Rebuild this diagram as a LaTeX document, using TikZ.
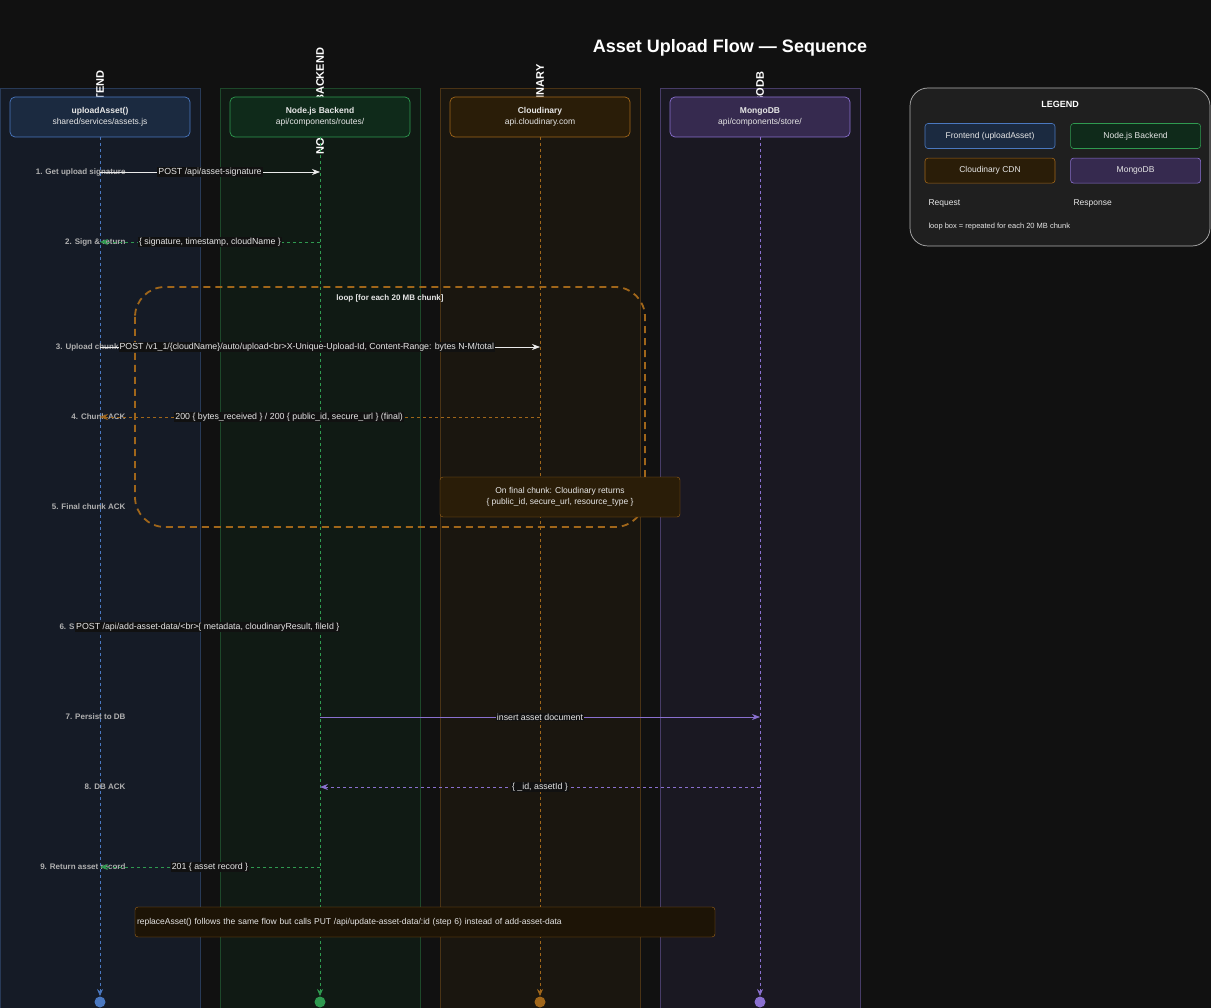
\documentclass[tikz,border=0pt]{standalone}
\usepackage{fontspec}
\setmainfont{Liberation Sans}
\usetikzlibrary{arrows.meta,positioning}
\definecolor{bgc}{HTML}{111111}
\definecolor{feL}{HTML}{151B26}\definecolor{feF}{HTML}{1B2A40}\definecolor{feD}{HTML}{4A78C0}
\definecolor{beL}{HTML}{101A14}\definecolor{beF}{HTML}{0F2A1A}\definecolor{beD}{HTML}{2F9A50}
\definecolor{clL}{HTML}{1A160F}\definecolor{clF}{HTML}{2A1D08}\definecolor{clD}{HTML}{A0661A}
\definecolor{mgL}{HTML}{1A1822}\definecolor{mgF}{HTML}{362A4F}\definecolor{mgD}{HTML}{8A70D0}
\definecolor{txt}{HTML}{E6E6E6}\definecolor{stp}{HTML}{B0B0B0}
\begin{document}
\begin{tikzpicture}[x=1pt,y=-1pt,font=\fontsize{8.5}{10.5}\selectfont,text=txt]
	\tikzstyle{Lane}=[draw,line width=0.6pt]
	\tikzstyle{Head}=[draw,rounded corners=5pt,minimum width=180pt,minimum height=40pt,align=center,line width=0.7pt]
	\tikzstyle{Life}=[dashed,line width=0.6pt,-{Stealth[length=7pt,width=6pt]}]
	\tikzstyle{Step}=[anchor=east,text=stp,font=\fontsize{8}{10}\selectfont\bfseries]
	\tikzstyle{Msg}=[fill=bgc,inner sep=1pt,text=txt,font=\fontsize{8.8}{10.5}\selectfont]
	\tikzstyle{Req}=[line width=0.7pt,-{Stealth[length=8pt,width=6pt]}]
	\tikzstyle{Resp}=[line width=0.7pt,dashed,-{Stealth[length=8pt,width=6pt]}]
	\tikzstyle{Key}=[draw,rounded corners=3pt,minimum width=130pt,minimum height=25pt,line width=0.6pt]
	\useasboundingbox (0,0) rectangle (1211,1008);
	\fill[bgc] (0,0) rectangle (1211,1008);
	\clip (0,0) rectangle (1211,1008);
	% lanes
	\draw[Lane,feD!40!bgc,fill=feL] (0,88) rectangle (200,1010);
	\draw[Lane,beD!40!bgc,fill=beL] (220,88) rectangle (420,1010);
	\draw[Lane,clD!40!bgc,fill=clL] (440,88) rectangle (640,1010);
	\draw[Lane,mgD!45!bgc,fill=mgL] (660,88) rectangle (860,1010);
	\node[font=\fontsize{18}{20}\selectfont\bfseries,text=white] (title) at (730,48) {Asset Upload Flow — Sequence};
	% rotated lane titles
	\foreach \x/\t in {100/FRONTEND,320/NODE.JS BACKEND,540/CLOUDINARY,760/MONGODB}
		\node[rotate=90,text=white,font=\fontsize{11}{13}\selectfont\bfseries] at (\x,101) {\t};
	% lifelines
	\coordinate (fe) at (100,137); \coordinate (feE) at (100,996);
	\coordinate (be) at (320,137); \coordinate (beE) at (320,996);
	\coordinate (cl) at (540,137); \coordinate (clE) at (540,996);
	\coordinate (mg) at (760,137); \coordinate (mgE) at (760,996);
	\draw[Life,feD] (fe) -- (feE);
	\draw[Life,beD] (be) -- (beE);
	\draw[Life,clD] (cl) -- (clE);
	\draw[Life,mgD] (mg) -- (mgE);
	\foreach \n/\c in {feE/feD,beE/beD,clE/clD,mgE/mgD}
		\fill[\c] (\n) ++(0,6) circle (5.5pt);
	% headers
	\node[Head,fill=feF,draw=feD] (front) at (100,117) {\textbf{uploadAsset()}\\shared/services/assets.js};
	\node[Head,fill=beF,draw=beD] (back) at (320,117) {\textbf{Node.js Backend}\\api/components/routes/};
	\node[Head,fill=clF,draw=clD] (cloud) at (540,117) {\textbf{Cloudinary}\\api.cloudinary.com};
	\node[Head,fill=mgF,draw=mgD] (mongo) at (760,117) {\textbf{MongoDB}\\api/components/store/};
	% loop
	\draw[clD,line width=1.8pt,dash pattern=on 7pt off 5pt,rounded corners=30pt] (135,287) rectangle (645,527);
	\node[font=\fontsize{8}{10}\selectfont\bfseries] (loop) at (390,298) {loop [for each 20 MB chunk]};
	% steps
	\node[Step] (s1) at (129,172) {1. Get upload signature};
	\node[Step] (s2) at (129,242) {2. Sign \& return};
	\node[Step] (s3) at (130,347) {3. Upload chunk N};
	\node[Step] (s4) at (129,417) {4. Chunk ACK};
	\node[Step] (s5) at (129,507) {5. Final chunk ACK};
	\node[Step,anchor=west] (s6) at (56,627) {6. S};
	\node[Step] (s7) at (129,717) {7. Persist to DB};
	\node[Step] (s8) at (129,787) {8. DB ACK};
	\node[Step] (s9) at (129,867) {9. Return asset record};
	% messages
	\coordinate (m1a) at (100,172); \coordinate (m1b) at (320,172);
	\draw[Req,txt!80] (m1a) -- node[Msg] {POST /api/asset-signature} (m1b);
	\coordinate (m2a) at (320,242); \coordinate (m2b) at (100,242);
	\draw[Resp,beD] (m2a) -- node[Msg] {\{ signature, timestamp, cloudName \}} (m2b);
	\coordinate (m3a) at (100,347); \coordinate (m3b) at (540,347);
	\draw[Req,txt!80] (m3a) -- node[Msg,pos=0.47] {POST /v1\_1/\{cloudName\}/auto/upload<br>X-Unique-Upload-Id, Content-Range: bytes N-M/total} (m3b);
	\coordinate (m4a) at (540,417); \coordinate (m4b) at (100,417);
	\draw[Resp,clD] (m4a) -- node[Msg,pos=0.57] {200 \{ bytes\_received \} / 200 \{ public\_id, secure\_url \} (final)} (m4b);
	\node[Msg,anchor=west] (m6) at (75,627) {POST /api/add-asset-data/<br>\{ metadata, cloudinaryResult, fileId \}};
	\coordinate (m7a) at (320,717); \coordinate (m7b) at (760,717);
	\draw[Req,mgD] (m7a) -- node[Msg] {insert asset document} (m7b);
	\coordinate (m8a) at (760,787); \coordinate (m8b) at (320,787);
	\draw[Resp,mgD] (m8a) -- node[Msg] {\{ \_id, assetId \}} (m8b);
	\coordinate (m9a) at (320,867); \coordinate (m9b) at (100,867);
	\draw[Resp,beD] (m9a) -- node[Msg] {201 \{ asset record \}} (m9b);
	% notes
	\node[draw=clD,fill=clF,rounded corners=3pt,minimum width=240pt,minimum height=40pt,align=center] (final) at (560,497) {On final chunk: Cloudinary returns\\\{ public\_id, secure\_url, resource\_type \}};
	\node[draw=clD,fill=clF!70!black,rounded corners=3pt,minimum width=580pt,minimum height=30pt,text width=576pt,align=left,inner sep=2pt] (replace) at (425,922) {replaceAsset() follows the same flow but calls PUT /api/update-asset-data/:id (step 6) instead of add-asset-data};
	% legend
	\draw[gray!60,fill=black!88!white,line width=0.7pt,rounded corners=18pt] (910,88) rectangle (1210,246);
	\node[font=\fontsize{9}{11}\selectfont\bfseries,text=white] (leg) at (1060,104) {LEGEND};
	\node[Key,fill=feF,draw=feD] (k1) at (990,136) {Frontend (uploadAsset)};
	\node[Key,fill=beF,draw=beD,right=15pt of k1] (k2) {Node.js Backend};
	\node[Key,fill=clF,draw=clD,below=9pt of k1] (k3) {Cloudinary CDN};
	\node[Key,fill=mgF,draw=mgD,below=9pt of k2] (k4) {MongoDB};
	\node[anchor=west] (req) at (925,203) {Request};
	\node[anchor=west] (resp) at (1070,203) {Response};
	\node[anchor=west,font=\fontsize{7.5}{9}\selectfont] (lnote) at (925,227) {loop box = repeated for each 20 MB chunk};
\end{tikzpicture}
\end{document}
